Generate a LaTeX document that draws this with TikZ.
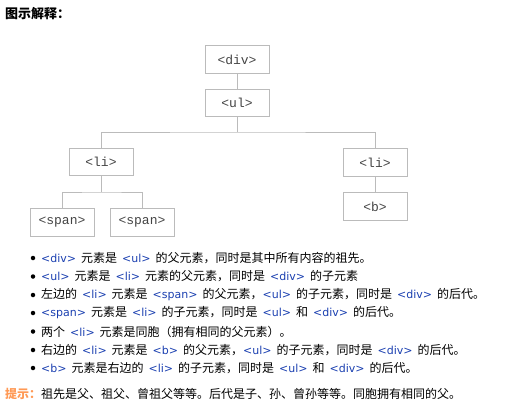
\documentclass[tikz,border=0pt]{standalone}
\usepackage{fontspec}
\setmainfont{Noto Sans CJK SC}
\newfontfamily\codefont{DejaVu Sans}
\newfontfamily\monofont{Liberation Mono}
\usetikzlibrary{positioning}
\definecolor{boxgray}{HTML}{BBBBBB}
\definecolor{boxtext}{HTML}{444444}
\definecolor{codeblue}{HTML}{1A3FB0}
\definecolor{tiporange}{HTML}{FF9955}
\newcommand{\cd}[1]{{\codefont\fontsize{11pt}{13pt}\selectfont\color{codeblue}#1}}
\newcommand{\itemfont}{\fontsize{12pt}{14pt}\selectfont\spaceskip 5pt\relax}
\begin{document}
\begin{tikzpicture}[x=1pt,y=-1pt,
  tagbox/.style={draw=boxgray,line width=0.9pt,minimum width=64pt,minimum height=27.5pt,inner sep=0pt,
     text=boxtext,font=\monofont\fontsize{13pt}{15pt}\selectfont},
  link/.style={draw=boxgray,line width=0.9pt},
  item/.style={anchor=west,inner sep=0pt,font=\itemfont},
  dot/.style={circle,fill=black,minimum size=4.5pt,inner sep=0pt}]
\useasboundingbox (0,0) rectangle (529,417);
% title
\node[anchor=west,inner sep=0pt,font=\fontsize{13pt}{15pt}\selectfont\bfseries] (title) at (5,14) {图示解释：};
% tree
\node[tagbox] (div) at (237,59.5) {<div>};
\node[tagbox] (ul) at (237,103) {<ul>};
\node[tagbox] (li1) at (101,162) {<li>};
\node[tagbox] (li2) at (375,162.5) {<li>};
\node[tagbox] (span1) at (62,222.5) {<span>};
\node[tagbox] (span2) at (142,222.5) {<span>};
\node[tagbox] (b) at (375,206.5) {<b>};
\coordinate (j1) at (237,132);
\coordinate (j2) at (101,192);
\draw[link] (div) -- (ul);
\draw[link] (ul) -- (j1);
\draw[link] (li1.north) |- (j1) -| (li2.north);
\draw[link] (li1) -- (j2);
\draw[link] (span1.north) |- (j2) -| (span2.north);
\draw[link] (li2) -- (b);
% bullets
\foreach \yy/\nm in {258/d1,276.5/d2,295/d3,313/d4,331.5/d5,350/d6,368/d7}
  \node[dot] (\nm) at (33,\yy) {};
\node[item] (t1) at (41,258) {\cd{<div>} 元素是 \cd{<ul>} 的父元素，同时是其中所有内容的祖先。};
\node[item] (t2) at (41,276.5) {\cd{<ul>} 元素是 \cd{<li>} 元素的父元素，同时是 \cd{<div>} 的子元素};
\node[item] (t3) at (41,295) {左边的 \cd{<li>} 元素是 \cd{<span>} 的父元素，\cd{<ul>} 的子元素，同时是 \cd{<div>} 的后代。};
\node[item] (t4) at (41,313) {\cd{<span>} 元素是 \cd{<li>} 的子元素，同时是 \cd{<ul>} 和 \cd{<div>} 的后代。};
\node[item] (t5) at (41,331.5) {两个 \cd{<li>} 元素是同胞（拥有相同的父元素）。};
\node[item] (t6) at (41,350) {右边的 \cd{<li>} 元素是 \cd{<b>} 的父元素，\cd{<ul>} 的子元素，同时是 \cd{<div>} 的后代。};
\node[item] (t7) at (41,368) {\cd{<b>} 元素是右边的 \cd{<li>} 的子元素，同时是 \cd{<ul>} 和 \cd{<div>} 的后代。};
% tip
\node[item] (tip) at (5,394) {{\bfseries\color{tiporange}提示：}祖先是父、祖父、曾祖父等等。后代是子、孙、曾孙等等。同胞拥有相同的父。};
\end{tikzpicture}
\end{document}
